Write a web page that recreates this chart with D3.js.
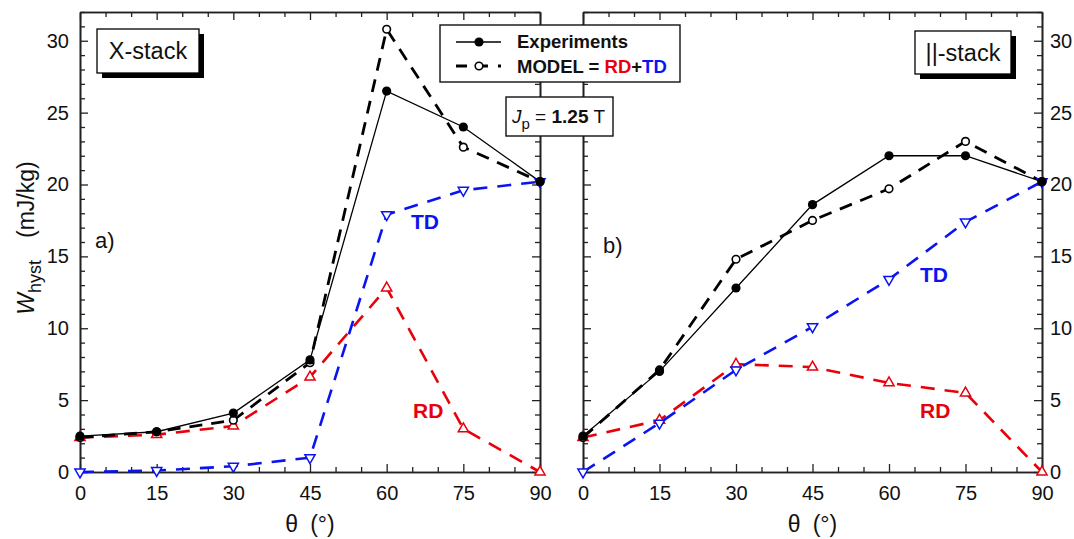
<!DOCTYPE html>
<html><head><meta charset="utf-8">
<script src="https://cdn.jsdelivr.net/npm/d3@7"></script>
<style>body{margin:0;background:#fff}svg{display:block;font-family:"Liberation Sans",Arial,sans-serif}</style>
</head><body><svg id="c" width="1074" height="539"></svg>
<script>
const angles = [0, 15, 30, 45, 60, 75, 90];
const xTicks = [0, 15, 30, 45, 60, 75, 90];
const yTicks = [0, 5, 10, 15, 20, 25, 30];
// Panel a) X-stack
const xExp   = [2.5, 2.8, 4.1, 7.8, 26.5, 24.0, 20.2];
const xModel = [2.4, 2.8, 3.6, 7.6, 30.8, 22.6, 20.2];
const xTD    = [0.0, 0.1, 0.4, 1.0, 17.9, 19.6, 20.2];
const xRD    = [2.4, 2.6, 3.2, 6.6, 12.8, 3.0, 0.0];
// Panel b) ||-stack
const pExp   = [2.5, 7.0, 12.8, 18.6, 22.0, 22.0, 20.2];
const pModel = [2.4, 7.1, 14.8, 17.5, 19.7, 23.0, 20.2];
const pTD    = [0.0, 3.4, 7.1, 10.1, 13.4, 17.4, 20.2];
const pRD    = [2.4, 3.6, 7.5, 7.3, 6.2, 5.5, 0.0];

const svg = d3.select("#c");
const yTop = 12, yBottom = 472;
const y = d3.scaleLinear().domain([0, 32]).range([yBottom, yTop]);
const RED = "#e8000b", BLUE = "#0a14f0";

function panel(x0, x1, data, opts) {
  const x = d3.scaleLinear().domain([0, 90]).range([x0, x1]);
  const g = svg.append("g");
  const minorX = d3.range(0, 91, 5).filter(v => v % 15 !== 0);
  const minorY = d3.range(0, 33, 1).filter(v => v % 5 !== 0);
  const ax = (axis, tr) => g.append("g").attr("transform", tr).call(axis)
      .call(s => s.select(".domain").attr("stroke", "#222").attr("stroke-width", 1.6))
      .call(s => s.selectAll(".tick line").attr("stroke", "#222").attr("stroke-width", 1.3))
      .call(s => s.selectAll("text").attr("font-size", 20).attr("fill", "#111"));
  ax(d3.axisBottom(x).tickValues(xTicks).tickSizeInner(-8).tickSizeOuter(0).tickPadding(14), `translate(0,${yBottom})`);
  ax(d3.axisBottom(x).tickValues(minorX).tickSizeInner(-5).tickSizeOuter(0).tickFormat(""), `translate(0,${yBottom})`);
  ax(d3.axisTop(x).tickValues(xTicks).tickSizeInner(-8).tickSizeOuter(0).tickFormat(""), `translate(0,${yTop})`);
  ax(d3.axisTop(x).tickValues(minorX).tickSizeInner(-5).tickSizeOuter(0).tickFormat(""), `translate(0,${yTop})`);
  ax(d3.axisLeft(y).tickValues(yTicks).tickSizeInner(-8).tickSizeOuter(0).tickPadding(11).tickFormat(opts.leftLabels ? d3.format("d") : ""), `translate(${x0},0)`);
  ax(d3.axisLeft(y).tickValues(minorY).tickSizeInner(-5).tickSizeOuter(0).tickFormat(""), `translate(${x0},0)`);
  ax(d3.axisRight(y).tickValues(yTicks).tickSizeInner(-8).tickSizeOuter(0).tickPadding(8).tickFormat(opts.rightLabels ? d3.format("d") : ""), `translate(${x1},0)`);
  ax(d3.axisRight(y).tickValues(minorY).tickSizeInner(-5).tickSizeOuter(0).tickFormat(""), `translate(${x1},0)`);

  const line = d3.line().x((d, i) => x(angles[i])).y(d => y(d));
  const series = [
    {v: data.rd, color: RED, dash: "14,10", w: 2.6, m: "up"},
    {v: data.td, color: BLUE, dash: "14,10", w: 2.6, m: "down"},
    {v: data.model, color: "#000", dash: "13,9", w: 2.8, m: "open"},
    {v: data.exp, color: "#000", dash: null, w: 1.3, m: "fill"}
  ];
  series.forEach(s => {
    g.append("path").attr("d", line(s.v)).attr("fill", "none").attr("stroke", s.color)
      .attr("stroke-width", s.w).attr("stroke-dasharray", s.dash);
  });
  series.forEach(s => {
    const pts = g.append("g");
    s.v.forEach((v, i) => {
      const cx = x(angles[i]), cy = y(v);
      if (s.m === "fill") pts.append("circle").attr("cx", cx).attr("cy", cy).attr("r", 4.6).attr("fill", "#000");
      else if (s.m === "open") pts.append("circle").attr("cx", cx).attr("cy", cy).attr("r", 3.8).attr("fill", "#fff").attr("stroke", "#000").attr("stroke-width", 1.6);
      else {
        pts.append("path").attr("d", d3.symbol().type(d3.symbolTriangle).size(45)())
          .attr("transform", `translate(${cx},${cy}) rotate(${s.m === "down" ? 180 : 0})`)
          .attr("fill", "#fff").attr("stroke", s.color).attr("stroke-width", 1.5);
      }
    });
  });
  g.append("text").attr("x", opts.tdX).attr("y", opts.tdY).attr("fill", BLUE).attr("font-weight", "bold").attr("font-size", 21).text("TD");
  g.append("text").attr("x", opts.rdX).attr("y", opts.rdY).attr("fill", RED).attr("font-weight", "bold").attr("font-size", 21).text("RD");
  g.append("text").attr("x", opts.pX).attr("y", opts.pY).attr("font-size", 22).attr("fill", "#111").text(opts.panelLabel);
  const b = opts.box;
  g.append("rect").attr("x", b.x + 5).attr("y", b.y + 5).attr("width", b.w).attr("height", b.h).attr("fill", "#000");
  g.append("rect").attr("x", b.x).attr("y", b.y).attr("width", b.w).attr("height", b.h).attr("fill", "#fff").attr("stroke", "#000").attr("stroke-width", 1.3);
  g.append("text").attr("x", b.x + b.w / 2).attr("y", b.y + b.h / 2 + 8).attr("text-anchor", "middle").attr("font-size", 23.5).attr("fill", "#111").text(opts.boxText);
  const xt = g.append("text").attr("x", (x0 + x1) / 2).attr("y", 532).attr("text-anchor", "middle").attr("font-size", 23).attr("fill", "#111");
  xt.append("tspan").text("θ");
  xt.append("tspan").attr("dx", 12).text("(°)");
  return x;
}

panel(80, 540, {exp: xExp, model: xModel, td: xTD, rd: xRD},
  {leftLabels: true, rightLabels: false, tdX: 411, tdY: 229, rdX: 413, rdY: 418, pX: 95, pY: 248, panelLabel: "a)",
   box: {x: 97, y: 29, w: 102, h: 44}, boxText: "X-stack"});
panel(583, 1042, {exp: pExp, model: pModel, td: pTD, rd: pRD},
  {leftLabels: false, rightLabels: true, tdX: 920, tdY: 282, rdX: 920, rdY: 418, pX: 603, pY: 253, panelLabel: "b)",
   box: {x: 915, y: 31, w: 96, h: 43}, boxText: "||-stack"});

const yt = svg.append("text").attr("transform", "translate(34,238) rotate(-90)").attr("text-anchor", "middle").attr("font-size", 23).attr("fill", "#111");
yt.append("tspan").attr("font-style", "italic").text("W");
yt.append("tspan").attr("font-size", 18).attr("dy", 7).text("hyst");
yt.append("tspan").attr("dy", -7).attr("dx", 22).text("(mJ/kg)");

const lg = svg.append("g");
lg.append("rect").attr("x", 440).attr("y", 25).attr("width", 240).attr("height", 57).attr("fill", "#fff").attr("stroke", "#111").attr("stroke-width", 1.4);
lg.append("line").attr("x1", 456).attr("x2", 501).attr("y1", 42).attr("y2", 42).attr("stroke", "#000").attr("stroke-width", 1.5);
lg.append("circle").attr("cx", 479).attr("cy", 42).attr("r", 4.6).attr("fill", "#000");
lg.append("line").attr("x1", 456).attr("x2", 501).attr("y1", 66).attr("y2", 66).attr("stroke", "#000").attr("stroke-width", 2.8).attr("stroke-dasharray", "11,10");
lg.append("circle").attr("cx", 479).attr("cy", 66).attr("r", 3.8).attr("fill", "#fff").attr("stroke", "#000").attr("stroke-width", 1.6);
lg.append("text").attr("x", 517).attr("y", 48).attr("font-size", 18.5).attr("font-weight", "bold").attr("fill", "#111").text("Experiments");
const lt = lg.append("text").attr("x", 517).attr("y", 73).attr("font-size", 18.5).attr("font-weight", "bold").attr("fill", "#111");
lt.append("tspan").text("MODEL = ");
lt.append("tspan").attr("fill", RED).text("RD");
lt.append("tspan").text("+");
lt.append("tspan").attr("fill", BLUE).text("TD");

const jg = svg.append("g");
jg.append("rect").attr("x", 506).attr("y", 97).attr("width", 107).attr("height", 39).attr("fill", "#fff").attr("stroke", "#111").attr("stroke-width", 1.4);
const jt = jg.append("text").attr("x", 512).attr("y", 123).attr("font-size", 19).attr("fill", "#111");
jt.append("tspan").attr("font-style", "italic").text("J");
jt.append("tspan").attr("font-size", 15).attr("dy", 6).text("p");
jt.append("tspan").attr("dy", -6).text(" = ");
jt.append("tspan").attr("font-weight", "bold").text("1.25");
jt.append("tspan").text(" T");
</script></body></html>
